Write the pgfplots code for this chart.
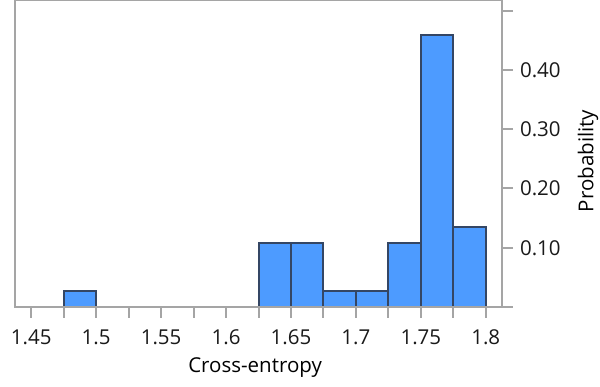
\documentclass[border=0pt]{standalone}
\usepackage{pgfplots}
\pgfplotsset{compat=1.18}
\usepackage{fontspec}
\setmainfont{Open Sans}
\definecolor{barfill}{RGB}{77,155,255}
\definecolor{baredge}{RGB}{52,70,100}
\definecolor{axgrey}{RGB}{165,165,165}
\begin{document}
\fontsize{20.5}{24}\selectfont
\begin{tikzpicture}
\path[use as bounding box] (-15pt,-80pt) rectangle (585pt,307pt);
\begin{axis}[
  at={(0pt,0pt)}, anchor=south west,
  scale only axis, width=487pt, height=307pt,
  xmin=1.4375, xmax=1.8125, ymin=0, ymax=0.518,
  axis line style={axgrey, line width=2pt},
  every tick/.style={axgrey, line width=2pt},
  tick align=outside, major tick length=11pt, minor tick length=11pt,
  xtick={1.45,1.5,1.55,1.6,1.65,1.7,1.75,1.8},
  xticklabels={1.45,1.5,1.55,1.6,1.65,1.7,1.75,1.8},
  minor xtick={1.475,1.525,1.575,1.625,1.675,1.725,1.775},
  ytick={0.1,0.2,0.3,0.4,0.5},
  yticklabels={0.10,0.20,0.30,0.40,{}},
  xtick pos=left, ytick pos=right,
  yticklabel pos=right,
  tick label style={font=\fontsize{20.5}{24}\selectfont, text=black!90},
  xticklabel style={yshift=-5pt},
  label style={font=\fontsize{20.5}{24}\selectfont, text=black!90},
  xlabel={Cross-entropy}, ylabel={Probability},
  every axis x label/.style={at={(rel axis cs:0.493,0)}, yshift=-61pt, anchor=center},
  every axis y label/.style={at={(rel axis cs:1,0.4756)}, xshift=86pt, rotate=90, anchor=center},
  axis on top,
  after end axis/.code={\draw[axgrey, line width=2pt] (rel axis cs:1,0) -- ++(11pt,0pt);},
]
\addplot[ybar interval, fill=barfill, draw=baredge, line width=2pt] coordinates {
  (1.475,0.027027) (1.5,0.027027)
};
\addplot[ybar interval, fill=barfill, draw=baredge, line width=2pt] coordinates {
  (1.625,0.108108) (1.65,0.108108) (1.675,0.027027) (1.7,0.027027)
  (1.725,0.108108) (1.75,0.459459) (1.775,0.135135) (1.8,0.135135)
};
\end{axis}
\end{tikzpicture}
\end{document}
